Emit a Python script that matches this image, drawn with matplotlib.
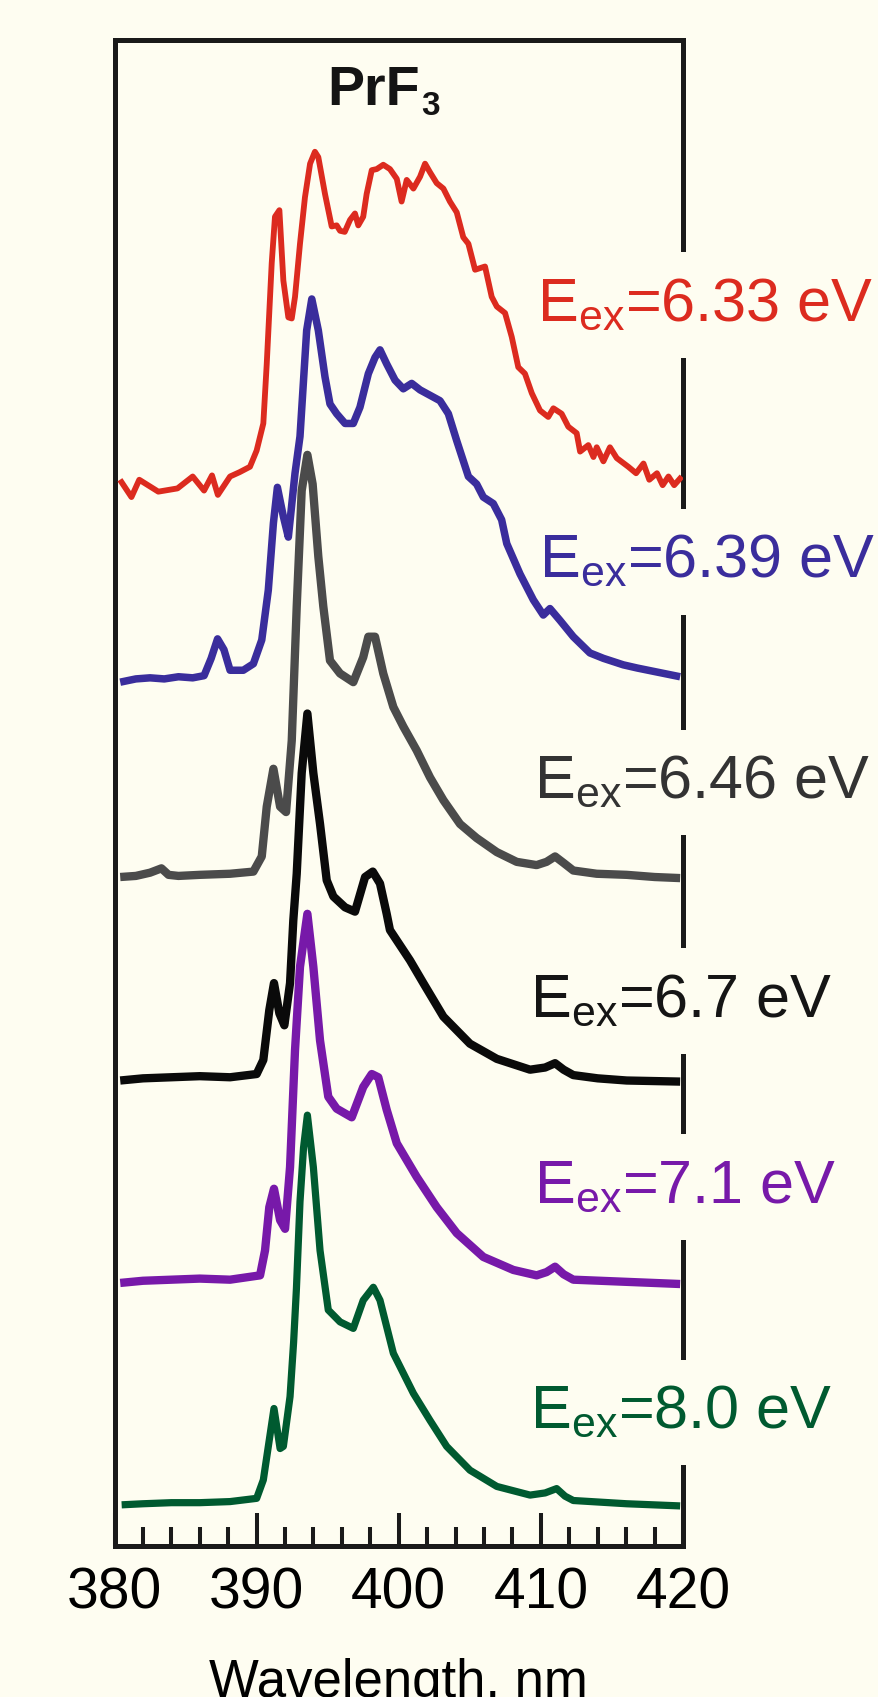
import numpy as np
import matplotlib
matplotlib.use("Agg")
import matplotlib.pyplot as plt

BG = "#FEFDF1"

plt.rcParams["font.family"] = ["Liberation Sans", "DejaVu Sans"]
plt.rcParams["mathtext.fontset"] = "custom"
plt.rcParams["mathtext.rm"] = "Liberation Sans"
plt.rcParams["mathtext.bf"] = "Liberation Sans:bold"

# emission spectra, intensity in arb. units, stacked by OFFSETS
red_wl = [380.38, 381.19, 381.74, 383.08, 384.43, 385.5, 386.3, 386.86, 387.27, 388.13, 388.8, 389.53,
          390.0, 390.47, 390.71, 391.06, 391.29, 391.6, 391.88, 392.23, 392.47, 392.7, 393.05, 393.4,
          393.76, 394.1, 394.34, 394.81, 395.28, 395.63, 395.87, 396.2, 396.57, 396.92, 397.15, 397.5,
          397.74, 398.1, 398.45, 398.91, 399.38, 399.86, 400.2, 400.56, 401.03, 401.5, 401.85, 402.2,
          402.67, 403.14, 403.6, 404.08, 404.54, 404.9, 405.37, 406.07, 406.54, 406.9, 407.48, 407.95,
          408.41, 408.88, 409.36, 409.94, 410.52, 410.88, 411.46, 411.93, 412.52, 412.76, 413.34, 413.7,
          413.93, 414.4, 414.86, 415.34, 416.15, 416.7, 417.22, 417.63, 418.17, 418.57, 418.98, 419.38,
          419.92]
red_int = [7, -9, 7, -4, -1, 10, -3, 11, -7, 10, 14, 19,
           34, 59, 114, 207, 250, 256, 191, 157, 156, 176, 225, 268,
           299, 310, 305, 271, 241, 242, 237, 236, 247, 253, 242, 250,
           271, 293, 294, 298, 294, 285, 264, 284, 276, 287, 299, 291,
           281, 276, 264, 254, 231, 225, 201, 204, 176, 167, 161, 139,
           111, 105, 87, 71, 65, 73, 68, 56, 50, 33, 39, 28,
           37, 24, 37, 27, 19, 13, 22, 7, 13, 2, 10, 2,
           10]

blue_wl = [380.4, 381.5, 382.5, 383.5, 384.5, 385.5, 386.3, 386.8, 387.25, 387.7, 388.13, 389.06,
           389.77, 390.36, 390.82, 391.18, 391.46, 391.88, 392.23, 392.7, 393.05, 393.52, 393.88, 394.34,
           394.81, 395.16, 395.63, 396.22, 396.8, 397.27, 397.86, 398.33, 398.68, 399.15, 399.74, 400.32,
           400.91, 401.5, 402.2, 402.9, 403.49, 404.08, 404.9, 405.48, 405.95, 406.65, 407.24, 407.6,
           408.53, 409.47, 410.17, 410.64, 411.35, 412.28, 413.45, 414.4, 415.8, 416.8, 418.3, 419.8]
blue_int = [-2, 1, 2, 1, 3, 2, 4, 20, 38, 28, 9, 9,
            15, 37, 83, 145, 178, 151, 132, 191, 225, 323, 352, 323,
            280, 255, 246, 237, 237, 252, 283, 298, 305, 292, 277, 269,
            274, 268, 263, 258, 246, 221, 188, 181, 169, 163, 148, 126,
            98, 74, 60, 66, 55, 40, 25, 20, 14, 11, 7, 3]

gray_wl = [380.4, 381.5, 382.5, 383.3, 383.8, 384.5, 386.0, 388.13, 389.77, 390.36, 390.71, 391.18,
           391.65, 392.07, 392.47, 392.82, 393.17, 393.57, 393.94, 394.34, 394.69, 395.16, 395.87, 396.8,
           397.5, 397.86, 398.33, 398.91, 399.62, 400.32, 401.26, 402.2, 403.14, 404.31, 405.48, 406.9,
           408.3, 409.7, 410.4, 411.0, 411.6, 412.28, 413.93, 416.04, 418.0, 419.8]
gray_int = [0, 1, 4, 8, 2, 1, 2, 3, 5, 19, 65, 100,
            65, 60, 126, 250, 357, 390, 363, 296, 250, 200, 188, 180,
            203, 222, 222, 188, 157, 139, 117, 92, 71, 49, 36, 23,
            14, 11, 14, 19, 13, 6, 3, 2, 0, -1]

black_wl = [380.4, 382.0, 384.0, 386.0, 388.13, 390.0, 390.47, 390.89, 391.22, 391.6, 391.95, 392.35,
            392.58, 392.82, 393.17, 393.57, 393.99, 394.46, 394.93, 395.4, 396.22, 396.92, 397.63, 398.17,
            398.68, 399.15, 399.38, 400.79, 401.73, 403.14, 405.01, 406.9, 409.24, 410.3, 411.0, 411.6,
            412.28, 414.0, 416.04, 419.8]
black_int = [-1, 1, 2, 3, 2, 5, 18, 64, 89, 61, 50, 89,
             147, 190, 283, 338, 283, 236, 184, 169, 159, 155, 187, 192,
             181, 153, 138, 110, 89, 58, 33, 19, 9, 11, 15, 9,
             4, 1, -1, -2]

purple_wl = [380.4, 382.0, 384.0, 386.0, 388.13, 390.24, 390.59, 390.89, 391.22, 391.65, 392.0, 392.35,
             392.7, 393.05, 393.57, 393.99, 394.46, 395.04, 395.63, 396.69, 397.5, 398.1, 398.56, 399.15,
             399.86, 401.26, 402.67, 404.08, 405.95, 408.06, 409.7, 410.4, 411.0, 411.6, 412.28, 416.04,
             419.8]
purple_int = [-1, 1, 2, 3, 2, 6, 29, 69, 86, 57, 49, 106,
              214, 291, 340, 291, 223, 171, 160, 152, 180, 192, 189, 159,
              128, 97, 69, 45, 23, 11, 6, 9, 14, 7, 2, 0,
              -2]

green_wl = [380.5, 382.0, 384.0, 386.0, 388.13, 390.0, 390.47, 390.89, 391.22, 391.65, 391.88, 392.35,
            392.6, 392.8, 393.05, 393.3, 393.57, 393.99, 394.46, 395.04, 395.87, 396.8, 397.5, 398.21,
            398.68, 399.62, 401.03, 402.2, 403.37, 405.01, 406.9, 409.24, 410.3, 411.11, 411.7, 412.28,
            416.04, 419.8]
green_int = [0, 1, 2, 2, 3, 6, 23, 60, 89, 52, 54, 100,
             150, 200, 280, 330, 360, 312, 235, 180, 169, 163, 189, 201,
             189, 140, 103, 78, 54, 32, 17, 9, 11, 15, 8, 4,
             1, -1]

LABELS = ["6.33", "6.39", "6.46", "6.7", "7.1", "8.0"]
OFFSETS = [978, 800, 618, 431, 244, 38]
COLORS = ["#DC2B1F", "#3A2D9C", "#4B4B4B", "#0A0A0A", "#7719A9", "#005A30"]
TEXT_COLORS = ["#DC2B1F", "#3A2D9C", "#333333", "#151515", "#7719A9", "#005A30"]
WIDTHS = [4.2, 5.4, 6.0, 6.0, 6.0, 5.2]
# label anchor (wavelength, baseline height)
LABEL_POS = [(409.7, 1132), (409.9, 895), (409.55, 691), (409.2, 489), (409.55, 317), (409.2, 109)]

spectra = [(red_wl, red_int), (blue_wl, blue_int), (gray_wl, gray_int),
           (black_wl, black_int), (purple_wl, purple_int), (green_wl, green_int)]

fig = plt.figure(figsize=(8.79, 16.97), dpi=100, facecolor=BG)
ax = fig.add_axes([0.1303, 0.0890, 0.6467, 0.8874], facecolor=BG)

for (wl, inten), off, c, lw in zip(spectra, OFFSETS, COLORS, WIDTHS):
    ax.plot(wl, np.array(inten) + off, color=c, lw=lw, solid_joinstyle="round",
            solid_capstyle="butt", zorder=4)

for lab, (lx, ly), tc in zip(LABELS, LABEL_POS, TEXT_COLORS):
    ax.text(lx, ly, r"E$_{\rm ex}$=" + lab + " eV", color=tc, fontsize=44,
            ha="left", va="baseline", zorder=3,
            bbox=dict(boxstyle="square,pad=0.4", facecolor=BG, edgecolor="none"))

# title PrF3 with a small subscript
ax.text(401.5, 1331, "PrF", fontsize=40, fontweight="bold", ha="right", va="baseline",
        color="#141414", zorder=3)
ax.text(401.6, 1322, "3", fontsize=24, fontweight="bold", ha="left", va="baseline",
        color="#141414", zorder=3)

ax.set_xlim(380, 420)
ax.set_ylim(0, 1391.2)
ax.set_yticks([])
ax.set_xticks(np.arange(380, 421, 10))
ax.set_xticks(np.arange(382, 420, 2), minor=True)
ax.tick_params(axis="x", which="major", direction="in", length=23.8, width=2.9,
               labelsize=41, pad=15, color="#1a1a1a")
ax.tick_params(axis="x", which="minor", direction="in", length=13.7, width=2.9,
               color="#1a1a1a")
for s in ax.spines.values():
    s.set_linewidth(3.6)
    s.set_color("#1a1a1a")
# the label runs off the bottom edge, as in the original figure
ax.set_xlabel("Wavelength, nm", fontsize=38, labelpad=27)

fig.savefig("out.png", dpi=100, facecolor=BG)
